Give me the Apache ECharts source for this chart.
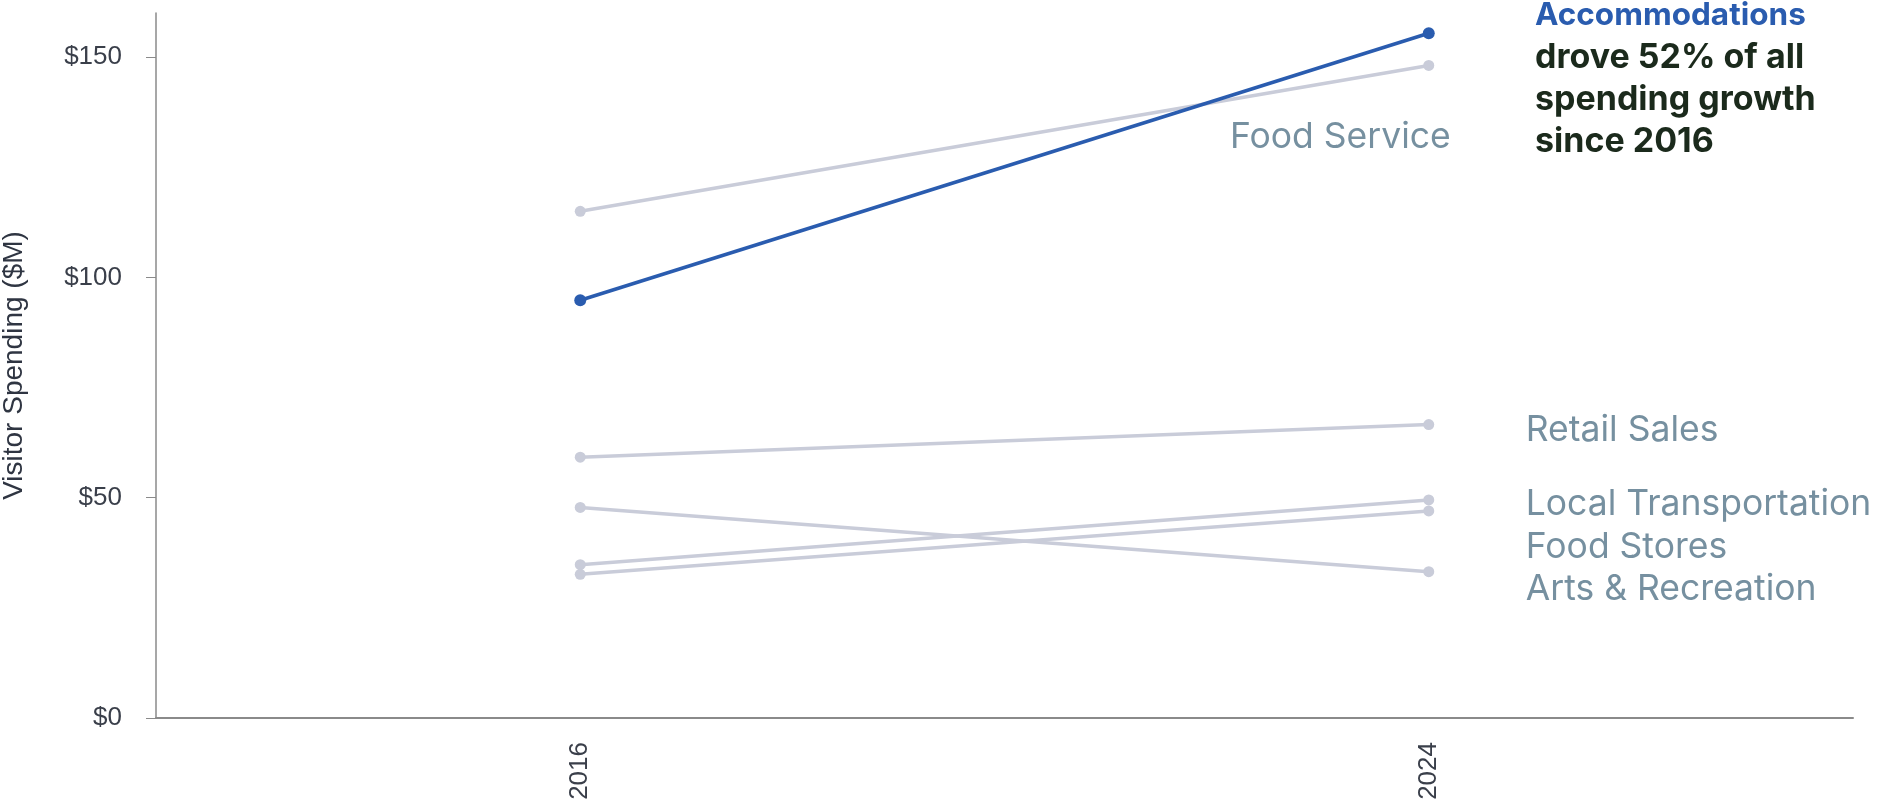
<!DOCTYPE html>
<html><head><meta charset="utf-8">
<script src="https://cdn.jsdelivr.net/npm/echarts@6/dist/echarts.min.js"></script>
<style>html,body{margin:0;padding:0;background:#fff}#c{width:1877px;height:804px}</style>
</head><body><div id="c"></div>
<script>
const years = ['2016', '2024'];
const accommodations = [94.8, 155.4];
const foodService = [115.0, 148.1];
const retailSales = [59.2, 66.6];
const localTransportation = [34.8, 49.5];
const foodStores = [32.6, 47.0];
const artsRecreation = [47.8, 33.2];
const yTicks = [0, 50, 100, 150];

const GREY = '#c9ccd9';
const BLUE = '#2a5caf';
const LABEL = '#7690a0';
const FONT = 'Inter, "DejaVu Sans", sans-serif';
const AXFONT = '"Liberation Sans", Arial, sans-serif';

function greySeries(name, data, offset, align) {
  return {
    name, type: 'line', data,
    symbol: 'circle', symbolSize: 11,
    lineStyle: { color: GREY, width: 3.5 },
    itemStyle: { color: GREY },
    z: 2,
    endLabel: {
      show: true, formatter: name, color: LABEL, fontFamily: FONT,
      fontSize: 35.5, offset: offset, align: align || 'left', verticalAlign: 'middle'
    },
    emphasis: { disabled: true }
  };
}

const chart = echarts.init(document.getElementById('c'), null, { renderer: 'canvas' });
chart.setOption({
  animation: false,
  title: {
    left: 1535, top: -5, padding: 0,
    text: '{a|Accommodations}\n{b|drove 52% of all}\n{b|spending growth}\n{b|since 2016}',
    textStyle: {
      rich: {
        a: { color: BLUE, fontFamily: FONT, fontWeight: 'bold', fontSize: 31.5, lineHeight: 42 },
        b: { color: '#1b2a1c', fontFamily: FONT, fontWeight: 'bold', fontSize: 34, lineHeight: 42 }
      }
    }
  },
  grid: { left: 156, right: 24, top: 13, bottom: 86, containLabel: false, outerBoundsMode: 'none' },
  xAxis: {
    type: 'category', data: years, boundaryGap: true,
    axisLine: { lineStyle: { color: '#8a8a8a', width: 2 } },
    axisTick: { alignWithLabel: true, length: 10, lineStyle: { color: '#8a8a8a' } },
    axisLabel: { rotate: 90, margin: 24, fontSize: 26, color: '#3a3f4a', fontFamily: AXFONT }
  },
  yAxis: {
    type: 'value', min: 0, max: 160,
    name: 'Visitor Spending ($M)', nameLocation: 'middle', nameGap: 128,
    nameTextStyle: { fontSize: 28, color: '#2f3542', fontFamily: AXFONT },
    splitLine: { show: false },
    axisLine: { show: true, lineStyle: { color: '#8a8a8a', width: 1.5 } },
    axisTick: { show: true, length: 10, customValues: yTicks, lineStyle: { color: '#8a8a8a' } },
    axisLabel: { customValues: yTicks, margin: 34, fontSize: 26, color: '#3a3f4a', fontFamily: AXFONT,
      formatter: v => '$' + v }
  },
  series: [
    greySeries('Food Service', foodService, [14, 72], 'right'),
    greySeries('Retail Sales', retailSales, [89, 6]),
    greySeries('Local Transportation', localTransportation, [89, 4]),
    greySeries('Food Stores', foodStores, [89, 36]),
    greySeries('Arts & Recreation', artsRecreation, [89, 18]),
    {
      name: 'Accommodations', type: 'line', data: accommodations,
      symbol: 'circle', symbolSize: 12,
      lineStyle: { color: BLUE, width: 3.5 },
      itemStyle: { color: BLUE },
      z: 5,
      emphasis: { disabled: true }
    }
  ]
});
</script></body></html>
